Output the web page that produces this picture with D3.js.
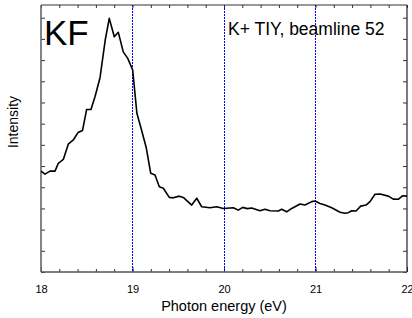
<!DOCTYPE html>
<html>
<head>
<meta charset="utf-8">
<script src="https://cdn.jsdelivr.net/npm/d3@7"></script>
<style>
  html, body { margin: 0; padding: 0; background: #fff; }
  svg { display: block; font-family: "Liberation Sans", Arial, sans-serif; }
</style>
</head>
<body>
<div id="chart"></div>
<script>
// ---- data ----
const energy = [
  18.000, 18.044, 18.098, 18.153, 18.189, 18.244, 18.298, 18.353, 18.404, 18.454,
  18.499, 18.546, 18.590, 18.645, 18.703, 18.746, 18.801, 18.845, 18.899, 18.948,
  19.002, 19.048, 19.101, 19.151, 19.199, 19.246, 19.293, 19.337, 19.402, 19.446,
  19.511, 19.555, 19.647, 19.702, 19.756, 19.847, 19.920, 19.992, 20.102, 20.156,
  20.204, 20.255, 20.303, 20.393, 20.448, 20.503, 20.593, 20.631, 20.685, 20.740,
  20.831, 20.885, 20.959, 20.995, 21.049, 21.104, 21.177, 21.268, 21.322, 21.358,
  21.396, 21.443, 21.494, 21.552, 21.596, 21.650, 21.705, 21.796, 21.850, 21.905,
  21.953, 22.000
];
const intensity = [
  4.76, 4.62, 4.76, 4.76, 5.13, 5.31, 6.03, 6.23, 6.58, 6.68,
  7.67, 7.67, 8.27, 9.17, 10.98, 11.97, 11.10, 11.31, 10.39, 10.08,
  9.53, 7.49, 6.67, 5.85, 4.66, 4.58, 4.02, 3.95, 3.52, 3.50,
  3.58, 3.52, 3.16, 3.48, 3.08, 3.03, 3.08, 3.00, 3.03, 2.92,
  3.05, 2.99, 3.02, 2.89, 2.96, 2.89, 2.88, 2.96, 2.84, 3.00,
  3.21, 3.16, 3.32, 3.35, 3.23, 3.16, 3.03, 2.82, 2.77, 2.80,
  2.89, 2.88, 3.11, 3.16, 3.32, 3.67, 3.68, 3.58, 3.44, 3.43,
  3.60, 3.58
];
const xTickValues = [18, 19, 20, 21, 22];
const markerLines = [19, 20, 21];
const sampleName = "KF";
const runLabel = "K+ TIY, beamline 52";

// ---- layout ----
const width = 412, height = 318;
const margin = { top: 5, right: 5, bottom: 46, left: 41 };
const innerW = width - margin.left - margin.right;
const innerH = height - margin.top - margin.bottom;

const svg = d3.select("#chart").append("svg")
  .attr("width", width).attr("height", height);
const g = svg.append("g").attr("transform", `translate(${margin.left},${margin.top})`);

const x = d3.scaleLinear().domain([18, 22]).range([0, innerW]);
const y = d3.scaleLinear().domain([0, 12.6]).range([innerH, 0]);

// minor / major ticks, pointing inward
const minorX = d3.range(18, 22.001, 0.2);
const yTicks = d3.range(0, 13, 1);

g.append("g").attr("transform", `translate(0,${innerH})`)
  .call(d3.axisBottom(x).tickValues(minorX).tickSize(-3).tickFormat(""))
  .call(a => a.select(".domain").remove())
  .call(a => a.selectAll("line").attr("stroke", "#333"));
g.append("g")
  .call(d3.axisTop(x).tickValues(minorX).tickSize(-3).tickFormat(""))
  .call(a => a.select(".domain").remove())
  .call(a => a.selectAll("line").attr("stroke", "#333"));
g.append("g").attr("transform", `translate(0,${innerH})`)
  .call(d3.axisBottom(x).tickValues(xTickValues).tickSize(-5).tickPadding(13).tickFormat(d3.format("d")))
  .call(a => a.select(".domain").remove())
  .call(a => a.selectAll("line").attr("stroke", "#333"))
  .call(a => a.selectAll("text").attr("font-size", 11).attr("fill", "#000")
    .attr("font-family", "Liberation Sans, Arial, sans-serif"));
g.append("g")
  .call(d3.axisLeft(y).tickValues(yTicks).tickSize(-4).tickFormat(""))
  .call(a => a.select(".domain").remove())
  .call(a => a.selectAll("line").attr("stroke", "#333"));
g.append("g").attr("transform", `translate(${innerW},0)`)
  .call(d3.axisRight(y).tickValues(yTicks).tickSize(-4).tickFormat(""))
  .call(a => a.select(".domain").remove())
  .call(a => a.selectAll("line").attr("stroke", "#333"));

// blue dotted markers
g.selectAll(".marker").data(markerLines).enter().append("line")
  .attr("x1", d => x(d)).attr("x2", d => x(d))
  .attr("y1", 0).attr("y2", innerH)
  .attr("stroke", "#0000ff").attr("stroke-width", 1)
  .attr("shape-rendering", "crispEdges")
  .attr("stroke-dasharray", "2,1");

// frame
g.append("line").attr("x1", 0).attr("x2", innerW).attr("y1", 0).attr("y2", 0)
  .attr("stroke", "#333").attr("stroke-width", 1);
g.append("line").attr("x1", innerW).attr("x2", innerW).attr("y1", 0).attr("y2", innerH)
  .attr("stroke", "#222").attr("stroke-width", 1.2);
g.append("line").attr("x1", 0).attr("x2", 0).attr("y1", 0).attr("y2", innerH)
  .attr("stroke", "#666").attr("stroke-width", 1.6);
g.append("line").attr("x1", 0).attr("x2", innerW).attr("y1", innerH).attr("y2", innerH)
  .attr("stroke", "#555").attr("stroke-width", 1.6);

// spectrum
const pts = energy.map((e, i) => [e, intensity[i]]);
g.append("path").datum(pts)
  .attr("fill", "none").attr("stroke", "#000").attr("stroke-width", 1.6)
  .attr("stroke-linejoin", "round")
  .attr("d", d3.line().x(d => x(d[0])).y(d => y(d[1])));

// labels
svg.append("text").attr("x", 44).attr("y", 45)
  .attr("font-size", 35).attr("fill", "#000").text(sampleName);
svg.append("text").attr("x", 228).attr("y", 35)
  .attr("font-size", 17.5).attr("fill", "#000").text(runLabel);
svg.append("text").attr("x", margin.left + innerW / 2).attr("y", 311)
  .attr("text-anchor", "middle").attr("font-size", 14.5).attr("fill", "#000")
  .text("Photon energy (eV)");
svg.append("text").attr("transform", "translate(18,122) rotate(-90)")
  .attr("text-anchor", "middle").attr("font-size", 14).attr("fill", "#000")
  .text("Intensity");
</script>
</body>
</html>
